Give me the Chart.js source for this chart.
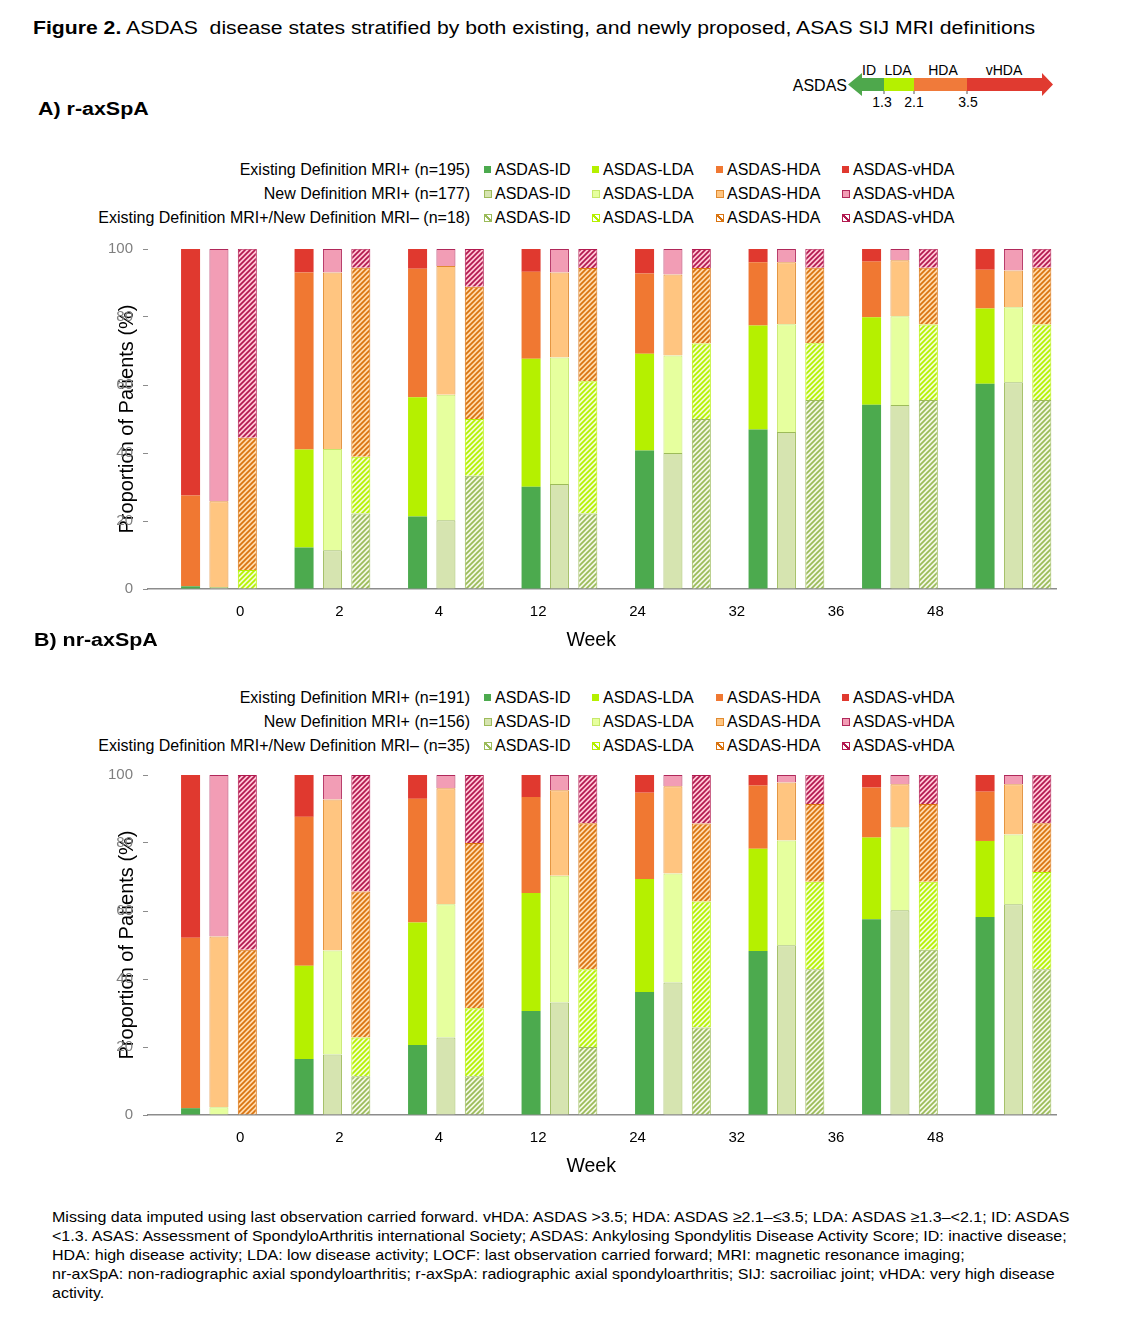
<!DOCTYPE html>
<html>
<head>
<meta charset="utf-8">
<script src="https://cdn.jsdelivr.net/npm/chart.js@4.4.1/dist/chart.umd.min.js"></script>
<style>
  body { margin: 0; background: #fff; font-family: 'Liberation Sans', Arial, sans-serif; color: #000; }
  #page { position: relative; width: 1134px; height: 1334px; overflow: hidden; }
  .abs { position: absolute; white-space: pre; }
  .title { left: 33px; top: 17px; font-size: 18px; line-height: 22px; transform: scaleX(1.177); transform-origin: left center; }
  .panel { font-size: 18px; font-weight: bold; line-height: 22px; transform: scaleX(1.19); transform-origin: left center; }
  .rowLabel { font-size: 16px; line-height: 20px; text-align: right; width: 470px; left: 0; }
  .item { font-size: 16px; line-height: 20px; }
  .sw { position: absolute; width: 7px; height: 7px; top: 6px; left: -11px; }
  .foot { left: 52px; font-size: 15px; line-height: 19px; transform: scaleX(1.068); transform-origin: left center; }
  canvas { position: absolute; left: 0; }
</style>
</head>
<body>
<div id="page">
  <div class="abs title"><b>Figure 2.</b> ASDAS  disease states stratified by both existing, and newly proposed, ASAS SIJ MRI definitions</div>

  <svg class="abs" style="left:780px;top:55px" width="290" height="60" font-family="Liberation Sans, Arial, sans-serif">
    <text x="67" y="30" font-size="16" text-anchor="end" dominant-baseline="central">ASDAS</text>
    <polygon points="68,29.5 82,18 82,23 104,23 104,36 82,36 82,41" fill="#4ea84c"/>
    <rect x="104" y="23" width="30" height="13" fill="#b5f000"/>
    <rect x="134" y="23" width="53" height="13" fill="#f07a3a"/>
    <polygon points="187,23 262,23 262,18 273,29.5 262,41 262,36 187,36" fill="#e03a30"/>
    <path d="M104,36 V39 M134,36 V39 M187,36 V39" stroke="#555" stroke-width="1"/>
    <g font-size="14" text-anchor="middle" dominant-baseline="central">
      <text x="89" y="15">ID</text>
      <text x="118" y="15">LDA</text>
      <text x="163" y="15">HDA</text>
      <text x="224" y="15">vHDA</text>
      <text x="102" y="47">1.3</text>
      <text x="134" y="47">2.1</text>
      <text x="188" y="47">3.5</text>
    </g>
  </svg>

  <div class="abs panel" style="left:38px;top:98px">A) r-axSpA</div>
  <div id="legendA"></div>
  <canvas id="chartA" width="1134" height="422" style="top:230px"></canvas>

  <div class="abs panel" style="left:34px;top:629px">B) nr-axSpA</div>
  <div id="legendB"></div>
  <canvas id="chartB" width="1134" height="422" style="top:756px"></canvas>

  <div class="abs foot" style="top:1207px">Missing data imputed using last observation carried forward. vHDA: ASDAS &gt;3.5; HDA: ASDAS ≥2.1–≤3.5; LDA: ASDAS ≥1.3–&lt;2.1; ID: ASDAS</div>
  <div class="abs foot" style="top:1226px">&lt;1.3. ASAS: Assessment of SpondyloArthritis international Society; ASDAS: Ankylosing Spondylitis Disease Activity Score; ID: inactive disease;</div>
  <div class="abs foot" style="top:1245px">HDA: high disease activity; LDA: low disease activity; LOCF: last observation carried forward; MRI: magnetic resonance imaging;</div>
  <div class="abs foot" style="top:1264px">nr-axSpA: non-radiographic axial spondyloarthritis; r-axSpA: radiographic axial spondyloarthritis; SIJ: sacroiliac joint; vHDA: very high disease</div>
  <div class="abs foot" style="top:1283px">activity.</div>
</div>

<script>
// Categorías y etiquetas
const weeks = ['0', '2', '4', '12', '24', '32', '36', '48'];
const states = ['ASDAS-ID', 'ASDAS-LDA', 'ASDAS-HDA', 'ASDAS-vHDA'];
const yTicks = [0, 20, 40, 60, 80, 100];
const rowLabelsA = ['Existing Definition MRI+ (n=195)', 'New Definition MRI+ (n=177)', 'Existing Definition MRI+/New Definition MRI\u2013 (n=18)'];
const rowLabelsB = ['Existing Definition MRI+ (n=191)', 'New Definition MRI+ (n=156)', 'Existing Definition MRI+/New Definition MRI\u2013 (n=35)'];

// A) r-axSpA, % de pacientes por semana
const aExistingID   = [0.8, 12.2, 21.3, 30.1, 40.7, 46.9, 54.2, 60.4];
const aExistingLDA  = [0, 28.8, 35.1, 37.6, 28.5, 30.6, 25.7, 22.1];
const aExistingHDA  = [26.7, 52.1, 37.8, 25.6, 23.6, 18.6, 16.4, 11.4];
const aExistingVHDA = [72.5, 6.9, 5.8, 6.7, 7.2, 3.9, 3.7, 6.1];

const aNewID   = [0.6, 11.4, 20.2, 30.9, 40.0, 46.2, 54.1, 60.8];
const aNewLDA  = [0, 29.8, 36.9, 37.2, 28.7, 31.7, 26.1, 22.1];
const aNewHDA  = [25.2, 51.9, 37.9, 25.0, 23.8, 18.2, 16.5, 10.8];
const aNewVHDA = [74.2, 6.9, 5.0, 6.9, 7.5, 3.9, 3.3, 6.3];

const aDiffID   = [0, 22.2, 33.3, 22.2, 50.0, 55.6, 55.6, 55.6];
const aDiffLDA  = [5.6, 16.7, 16.7, 38.9, 22.2, 16.7, 22.2, 22.2];
const aDiffHDA  = [38.9, 55.6, 38.9, 33.3, 22.2, 22.2, 16.7, 16.7];
const aDiffVHDA = [55.6, 5.6, 11.1, 5.6, 5.6, 5.6, 5.6, 5.6];

// B) nr-axSpA
const bExistingID   = [2.0, 16.5, 20.6, 30.6, 36.2, 48.2, 57.6, 58.2];
const bExistingLDA  = [0, 27.4, 36.0, 34.7, 33.2, 30.1, 24.0, 22.4];
const bExistingHDA  = [50.1, 43.8, 36.4, 28.2, 25.4, 18.6, 14.7, 14.5];
const bExistingVHDA = [47.9, 12.3, 7.0, 6.5, 5.2, 3.1, 3.7, 4.9];

const bNewID   = [0, 17.8, 22.8, 33.1, 39.0, 49.9, 60.2, 62.0];
const bNewLDA  = [2.3, 30.6, 39.2, 37.3, 32.0, 30.8, 24.4, 20.5];
const bNewHDA  = [50.2, 44.4, 34.1, 25.1, 25.7, 17.1, 12.7, 14.8];
const bNewVHDA = [47.5, 7.2, 3.9, 4.5, 3.3, 2.2, 2.7, 2.7];

const bDiffID   = [0, 11.4, 11.4, 20.0, 25.7, 42.9, 48.6, 42.9];
const bDiffLDA  = [0, 11.4, 20.0, 22.9, 37.1, 25.7, 20.0, 28.6];
const bDiffHDA  = [48.6, 42.9, 48.6, 42.9, 22.9, 22.9, 22.9, 14.3];
const bDiffVHDA = [51.4, 34.3, 20.0, 14.3, 14.3, 8.6, 8.6, 14.3];

// Colores
const solidColors = ['#4caa4e', '#b5f000', '#f07832', '#e0392f'];
const lightColors = ['#d6e4b0', '#e6ff9e', '#ffc580', '#f29db5'];
const lightBorders = ['#9dbb5a', '#c6e86a', '#e08a30', '#b0285a'];
const hatchBg = ['#f3f8e6', '#f2ffd2', '#ffd9aa', '#ffc6d6'];
const hatchLine = ['#9bbb59', '#b5f000', '#d9730f', '#b2194f'];

const slotsPerGroup = 4;
const slotCount = weeks.length * slotsPerGroup;
const fontFamily = 'Liberation Sans, Arial, sans-serif';

// Patrón rayado para la tercera barra
function makePattern(bg, fg) {
    const size = 5;
    const c = document.createElement('canvas');
    c.width = size;
    c.height = size;
    const x = c.getContext('2d');
    x.fillStyle = bg;
    x.fillRect(0, 0, size, size);
    x.strokeStyle = fg;
    x.lineWidth = 1.7;
    x.beginPath();
    x.moveTo(-1, size + 1); x.lineTo(size + 1, -1);
    x.moveTo(-1, 1); x.lineTo(1, -1);
    x.moveTo(size - 1, size + 1); x.lineTo(size + 1, size - 1);
    x.stroke();
    return x.createPattern(c, 'repeat');
}

// Leyenda HTML
function buildLegend(containerId, rowLabels, firstRowY) {
    const cont = document.getElementById(containerId);
    const textX = [495, 603, 727, 853];
    rowLabels.forEach((label, d) => {
        const top = firstRowY + d * 24 - 10;
        const lab = document.createElement('div');
        lab.className = 'abs rowLabel';
        lab.style.top = top + 'px';
        lab.textContent = label;
        cont.appendChild(lab);

        states.forEach((state, s) => {
            const item = document.createElement('div');
            item.className = 'abs item';
            item.style.top = top + 'px';
            item.style.left = textX[s] + 'px';
            item.textContent = state;
            const sw = document.createElement('span');
            sw.className = 'sw';
            if (d === 0) {
                sw.style.background = solidColors[s];
            } else if (d === 1) {
                sw.style.background = lightColors[s];
                sw.style.border = '1px solid ' + lightBorders[s];
                sw.style.width = '6px';
                sw.style.height = '6px';
            } else {
                sw.style.background = `linear-gradient(to top right, #fff 0 38%, ${hatchLine[s]} 38% 62%, #fff 62% 100%)`;
                sw.style.border = '1px solid ' + hatchLine[s];
                sw.style.width = '6px';
                sw.style.height = '6px';
            }
            item.appendChild(sw);
            cont.appendChild(item);
        });
    });
}

function buildChart(canvasId, series) {
    const patterns = hatchBg.map((bg, s) => makePattern(bg, hatchLine[s]));
    const fills = [solidColors, lightColors, patterns];
    const borders = [solidColors, lightBorders, hatchLine];

    const datasets = [];
    series.forEach((def, d) => {
        def.forEach((vals, s) => {
            const data = new Array(slotCount).fill(null);
            vals.forEach((v, g) => { data[g * slotsPerGroup + 1 + d] = v; });
            datasets.push({
                label: states[s],
                data: data,
                backgroundColor: fills[d][s],
                borderColor: borders[d][s],
                borderWidth: d === 0 ? 0 : 1,
                barPercentage: 0.67,
                categoryPercentage: 1
            });
        });
    });

    const ctx = document.getElementById(canvasId).getContext('2d');
    return new Chart(ctx, {
        type: 'bar',
        data: {
            labels: Array.from({ length: slotCount }, (_, i) => String(i)),
            datasets: datasets
        },
        options: {
            responsive: false,
            animation: false,
            layout: { padding: { top: 9, right: 78, left: 0, bottom: 0 } },
            plugins: { legend: { display: false }, tooltip: { enabled: false } },
            scales: {
                x: {
                    stacked: true,
                    ticks: { display: false },
                    grid: { display: false, drawTicks: false },
                    border: { display: true, color: '#8c8c8c', width: 1.5 },
                    afterFit: (scale) => { scale.height = 0; }
                },
                x2: {
                    type: 'linear',
                    position: 'bottom',
                    offset: false,
                    bounds: 'data',
                    min: -0.5,
                    max: slotCount - 0.5,
                    grid: { display: false, drawTicks: false, offset: false },
                    border: { display: false },
                    afterBuildTicks: (axis) => {
                        // etiquetas repartidas entre la primera barra del primer y del último grupo
                        const first = 1;
                        const last = (weeks.length - 1) * slotsPerGroup + 1;
                        const step = (last - first) / weeks.length;
                        axis.ticks = weeks.map((w, i) => ({ value: first + (i + 0.5) * step }));
                    },
                    ticks: {
                        autoSkip: false,
                        maxRotation: 0,
                        padding: 14,
                        color: '#000',
                        font: { size: 15, family: fontFamily },
                        callback: (value, index) => weeks[index]
                    },
                    title: {
                        display: true,
                        // espacios finales para desplazar el título un poco a la izquierda, como en el original
                        text: 'Week    ',
                        color: '#000',
                        padding: { top: 0, bottom: 0 },
                        font: { size: 19.5, family: fontFamily }
                    },
                    afterFit: (scale) => { scale.height = 63; }
                },
                y: {
                    stacked: true,
                    min: 0,
                    max: 100,
                    afterBuildTicks: (axis) => { axis.ticks = yTicks.map(v => ({ value: v })); },
                    ticks: {
                        padding: 10,
                        color: '#7f7f7f',
                        font: { size: 15, family: fontFamily }
                    },
                    grid: { display: true, drawOnChartArea: false, drawTicks: true, tickLength: 5, color: '#8c8c8c' },
                    border: { display: false },
                    title: {
                        display: true,
                        text: 'Proportion of Patients (%)',
                        color: '#000',
                        padding: { top: 115, bottom: 0 },
                        font: { size: 20, family: fontFamily }
                    },
                    afterFit: (scale) => { scale.width = 148; }
                }
            }
        }
    });
}

buildLegend('legendA', rowLabelsA, 170);
buildLegend('legendB', rowLabelsB, 698);

buildChart('chartA', [
    [aExistingID, aExistingLDA, aExistingHDA, aExistingVHDA],
    [aNewID, aNewLDA, aNewHDA, aNewVHDA],
    [aDiffID, aDiffLDA, aDiffHDA, aDiffVHDA]
]);

buildChart('chartB', [
    [bExistingID, bExistingLDA, bExistingHDA, bExistingVHDA],
    [bNewID, bNewLDA, bNewHDA, bNewVHDA],
    [bDiffID, bDiffLDA, bDiffHDA, bDiffVHDA]
]);
</script>
</body>
</html>
